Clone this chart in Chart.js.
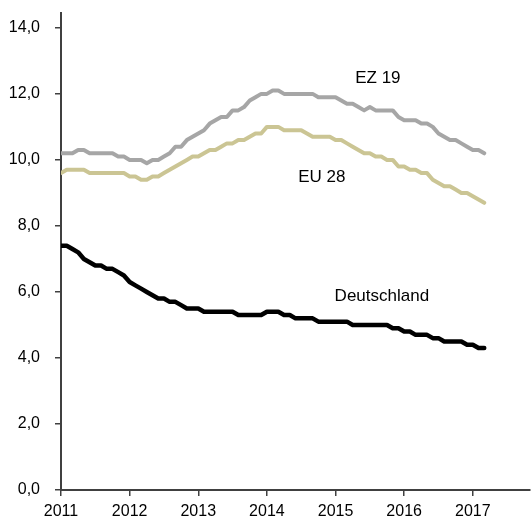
<!DOCTYPE html>
<html>
<head>
<meta charset="utf-8">
<script src="https://cdn.jsdelivr.net/npm/chart.js@4/dist/chart.umd.min.js"></script>
<style>
  html, body { margin: 0; padding: 0; background: #fff; }
  #chart { display: block; }
</style>
</head>
<body>
<canvas id="chart" width="532" height="518"></canvas>
<script>
// Monatswerte Jan 2011 - Mär 2017 (Arbeitslosenquote in %)
const yearLabels = ["2011", "2012", "2013", "2014", "2015", "2016", "2017"];
const yTicks = [0, 2, 4, 6, 8, 10, 12, 14];

const ez19 = [
  10.2, 10.2, 10.2, 10.3, 10.3, 10.2, 10.2, 10.2, 10.2, 10.2, 10.1, 10.1,
  10.0, 10.0, 10.0, 9.9, 10.0, 10.0, 10.1, 10.2, 10.4, 10.4, 10.6, 10.7,
  10.8, 10.9, 11.1, 11.2, 11.3, 11.3, 11.5, 11.5, 11.6, 11.8, 11.9, 12.0,
  12.0, 12.1, 12.1, 12.0, 12.0, 12.0, 12.0, 12.0, 12.0, 11.9, 11.9, 11.9,
  11.9, 11.8, 11.7, 11.7, 11.6, 11.5, 11.6, 11.5, 11.5, 11.5, 11.5, 11.3,
  11.2, 11.2, 11.2, 11.1, 11.1, 11.0, 10.8, 10.7, 10.6, 10.6, 10.5, 10.4,
  10.3, 10.3, 10.2
];
const eu28 = [
  9.6, 9.7, 9.7, 9.7, 9.7, 9.6, 9.6, 9.6, 9.6, 9.6, 9.6, 9.6,
  9.5, 9.5, 9.4, 9.4, 9.5, 9.5, 9.6, 9.7, 9.8, 9.9, 10.0, 10.1,
  10.1, 10.2, 10.3, 10.3, 10.4, 10.5, 10.5, 10.6, 10.6, 10.7, 10.8, 10.8,
  11.0, 11.0, 11.0, 10.9, 10.9, 10.9, 10.9, 10.8, 10.7, 10.7, 10.7, 10.7,
  10.6, 10.6, 10.5, 10.4, 10.3, 10.2, 10.2, 10.1, 10.1, 10.0, 10.0, 9.8,
  9.8, 9.7, 9.7, 9.6, 9.6, 9.4, 9.3, 9.2, 9.2, 9.1, 9.0, 9.0,
  8.9, 8.8, 8.7
];
const deutschland = [
  7.4, 7.4, 7.3, 7.2, 7.0, 6.9, 6.8, 6.8, 6.7, 6.7, 6.6, 6.5,
  6.3, 6.2, 6.1, 6.0, 5.9, 5.8, 5.8, 5.7, 5.7, 5.6, 5.5, 5.5,
  5.5, 5.4, 5.4, 5.4, 5.4, 5.4, 5.4, 5.3, 5.3, 5.3, 5.3, 5.3,
  5.4, 5.4, 5.4, 5.3, 5.3, 5.2, 5.2, 5.2, 5.2, 5.1, 5.1, 5.1,
  5.1, 5.1, 5.1, 5.0, 5.0, 5.0, 5.0, 5.0, 5.0, 5.0, 4.9, 4.9,
  4.8, 4.8, 4.7, 4.7, 4.7, 4.6, 4.6, 4.5, 4.5, 4.5, 4.5, 4.4,
  4.4, 4.3, 4.3
];

// Beschriftungen: [Text, Monat, Wert]
const seriesLabels = [
  ["EZ 19", 55.4, 12.48],
  ["EU 28", 45.6, 9.46],
  ["Deutschland", 56.1, 5.88]
];

const toPoints = arr => arr.map((v, i) => ({ x: i, y: v }));
const axisColor = "#404040";

const labelPlugin = {
  id: "seriesLabels",
  afterDatasetsDraw(chart) {
    const { ctx, scales } = chart;
    ctx.save();
    ctx.font = "17px 'Liberation Sans', Arial, sans-serif";
    ctx.fillStyle = "#000";
    ctx.textAlign = "center";
    ctx.textBaseline = "middle";
    seriesLabels.forEach(([txt, mx, val]) => {
      ctx.fillText(txt, scales.x.getPixelForValue(mx), scales.y.getPixelForValue(val));
    });
    ctx.restore();
  }
};

new Chart(document.getElementById("chart"), {
  type: "line",
  data: {
    datasets: [
      { label: "EZ 19", data: toPoints(ez19), borderColor: "#a6a6a6", borderWidth: 4 },
      { label: "EU 28", data: toPoints(eu28), borderColor: "#cbc594", borderWidth: 4 },
      { label: "Deutschland", data: toPoints(deutschland), borderColor: "#000000", borderWidth: 4.5 }
    ]
  },
  options: {
    responsive: false,
    animation: false,
    layout: { padding: { top: 13, right: 2, left: 0, bottom: 0 } },
    elements: {
      point: { radius: 0 },
      line: { tension: 0, borderJoinStyle: "round", borderCapStyle: "round" }
    },
    plugins: { legend: { display: false }, tooltip: { enabled: false } },
    scales: {
      x: {
        type: "linear",
        min: 0,
        max: 82,
        afterBuildTicks: scale => { scale.ticks = yearLabels.map((_, i) => ({ value: i * 12 })); },
        afterFit: scale => { scale.height = 28; scale.paddingLeft = 0; scale.paddingRight = 0; },
        ticks: {
          callback: v => yearLabels[v / 12],
          color: "#000",
          font: { family: "'Liberation Sans', Arial, sans-serif", size: 16, lineHeight: 1 },
          maxRotation: 0,
          padding: 8
        },
        grid: { drawOnChartArea: false, drawTicks: true, tickLength: 6, color: axisColor, lineWidth: 1.5 },
        border: { display: true, color: axisColor, width: 2 }
      },
      y: {
        min: 0,
        max: 14.45,
        afterBuildTicks: scale => { scale.ticks = yTicks.map(v => ({ value: v })); },
        afterFit: scale => { scale.width = 61; scale.paddingTop = 0; scale.paddingBottom = 0; },
        ticks: {
          callback: v => v.toFixed(1).replace(".", ","),
          color: "#000",
          font: { family: "'Liberation Sans', Arial, sans-serif", size: 16 },
          padding: 15
        },
        grid: { drawOnChartArea: false, drawTicks: true, tickLength: 6, color: axisColor, lineWidth: 1.5 },
        border: { display: true, color: axisColor, width: 2 }
      }
    }
  },
  plugins: [labelPlugin]
});
</script>
</body>
</html>
